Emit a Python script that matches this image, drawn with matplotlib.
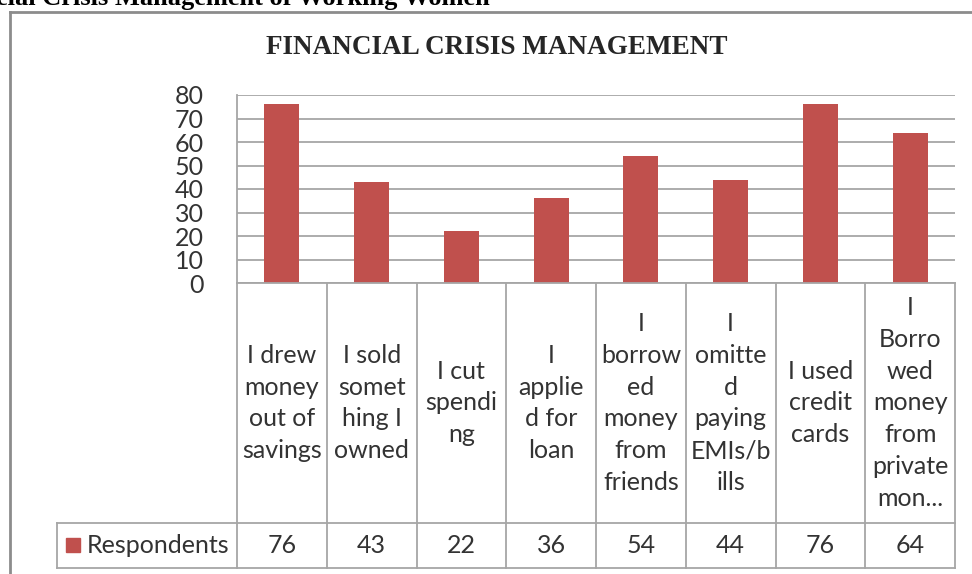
import numpy as np
import matplotlib
matplotlib.use("Agg")
import matplotlib.pyplot as plt
import matplotlib.transforms as mtransforms

# dati
categorie = ["I drew\nmoney\nout of\nsavings",
             "I sold\nsomet\nhing I\nowned",
             "I cut\nspendi\nng",
             "I\napplie\nd for\nloan",
             "I\nborrow\ned\nmoney\nfrom\nfriends",
             "I\nomitte\nd\npaying\nEMIs/b\nills",
             "I used\ncredit\ncards",
             "I\nBorro\nwed\nmoney\nfrom\nprivate\nmon..."]
respondents = [76, 43, 22, 36, 54, 44, 76, 64]
yticks = [0, 10, 20, 30, 40, 50, 60, 70, 80]
serie = "Respondents"

W, H = 972, 574
rosso = "#C0504D"
grigio = "#A6A6A6"
testo = "#333333"

fig = plt.figure(figsize=(W / 100, H / 100), dpi=100)

def fx(px):
    return px / W

def fy(py):
    return 1 - py / H

# area del grafico
ax = fig.add_axes([fx(237), fy(283), fx(955) - fx(237), fy(95) - fy(283)])
x = np.arange(len(respondents))
ax.bar(x, respondents, width=0.39, color=rosso, zorder=3)
ax.set_xlim(-0.5, len(respondents) - 0.5)
ax.set_ylim(0, 80)
ax.set_yticks(yticks)
ax.set_yticklabels([str(t) for t in yticks], fontsize=18, color=testo, family="Lato")
ax.tick_params(axis="y", length=0, pad=24)
ax.set_xticks([])
ax.yaxis.grid(True, color=grigio, lw=1.3, zorder=0)
for s in ["top", "right", "bottom"]:
    ax.spines[s].set_visible(False)
ax.spines["left"].set_color(grigio)
ax.spines["left"].set_linewidth(1.3)

# tabella dati sotto il grafico
tr = mtransforms.blended_transform_factory(ax.transData, fig.transFigure)
y_top, y_mid, y_bot = fy(283), fy(523), fy(568)
lkw = dict(color=grigio, lw=1.3, transform=tr, clip_on=False)
n = len(respondents)
for i in range(n + 1):
    fig.add_artist(plt.Line2D([i - 0.5, i - 0.5], [y_top, y_bot], **lkw))
fig.add_artist(plt.Line2D([-0.5, n - 0.5], [y_top, y_top], **lkw))
fig.add_artist(plt.Line2D([-0.5, n - 0.5], [y_bot, y_bot], **lkw))
fig.add_artist(plt.Line2D([fx(57), fx(237)], [y_mid, y_mid], color=grigio, lw=1.3))
fig.add_artist(plt.Line2D([-0.5, n - 0.5], [y_mid, y_mid], **lkw))
fig.add_artist(plt.Line2D([fx(57), fx(237)], [y_bot, y_bot], color=grigio, lw=1.3))
fig.add_artist(plt.Line2D([fx(57), fx(57)], [y_mid, y_bot], color=grigio, lw=1.3))

for i, (c, v) in enumerate(zip(categorie, respondents)):
    fig.text(i, (y_top + y_mid) / 2, c, transform=tr, ha="center", va="center",
             fontsize=18, family="Lato", color=testo, linespacing=1.47)
    fig.text(i, (y_mid + y_bot) / 2, str(v), transform=tr, ha="center", va="center",
             fontsize=18, family="Lato", color=testo)

fig.add_artist(plt.Rectangle((fx(66), fy(552)), fx(80) - fx(66), fy(538) - fy(552),
                             color=rosso, transform=fig.transFigure))
fig.text(fx(87), (y_mid + y_bot) / 2, serie, ha="left", va="center",
         fontsize=18, family="Lato", color=testo)

# titolo
fig.text(fx(497), fy(48), "FINANCIAL CRISIS MANAGEMENT", ha="center", va="center",
         fontsize=19.5, family="Liberation Serif", fontweight="bold", color="#262626")

# cornice esterna
fig.add_artist(plt.Line2D([fx(10), fx(10)], [fy(12), 0], color="#8C8C8C", lw=2))
fig.add_artist(plt.Line2D([fx(10), 1], [fy(12), fy(12)], color="#8C8C8C", lw=2))

# didascalia tagliata in alto
fig.text(fx(490), fy(5), "Financial Crisis Management of Working Women", ha="right",
         va="baseline", fontsize=19, family="Liberation Serif", fontweight="bold")

fig.savefig("out.png", dpi=100)
